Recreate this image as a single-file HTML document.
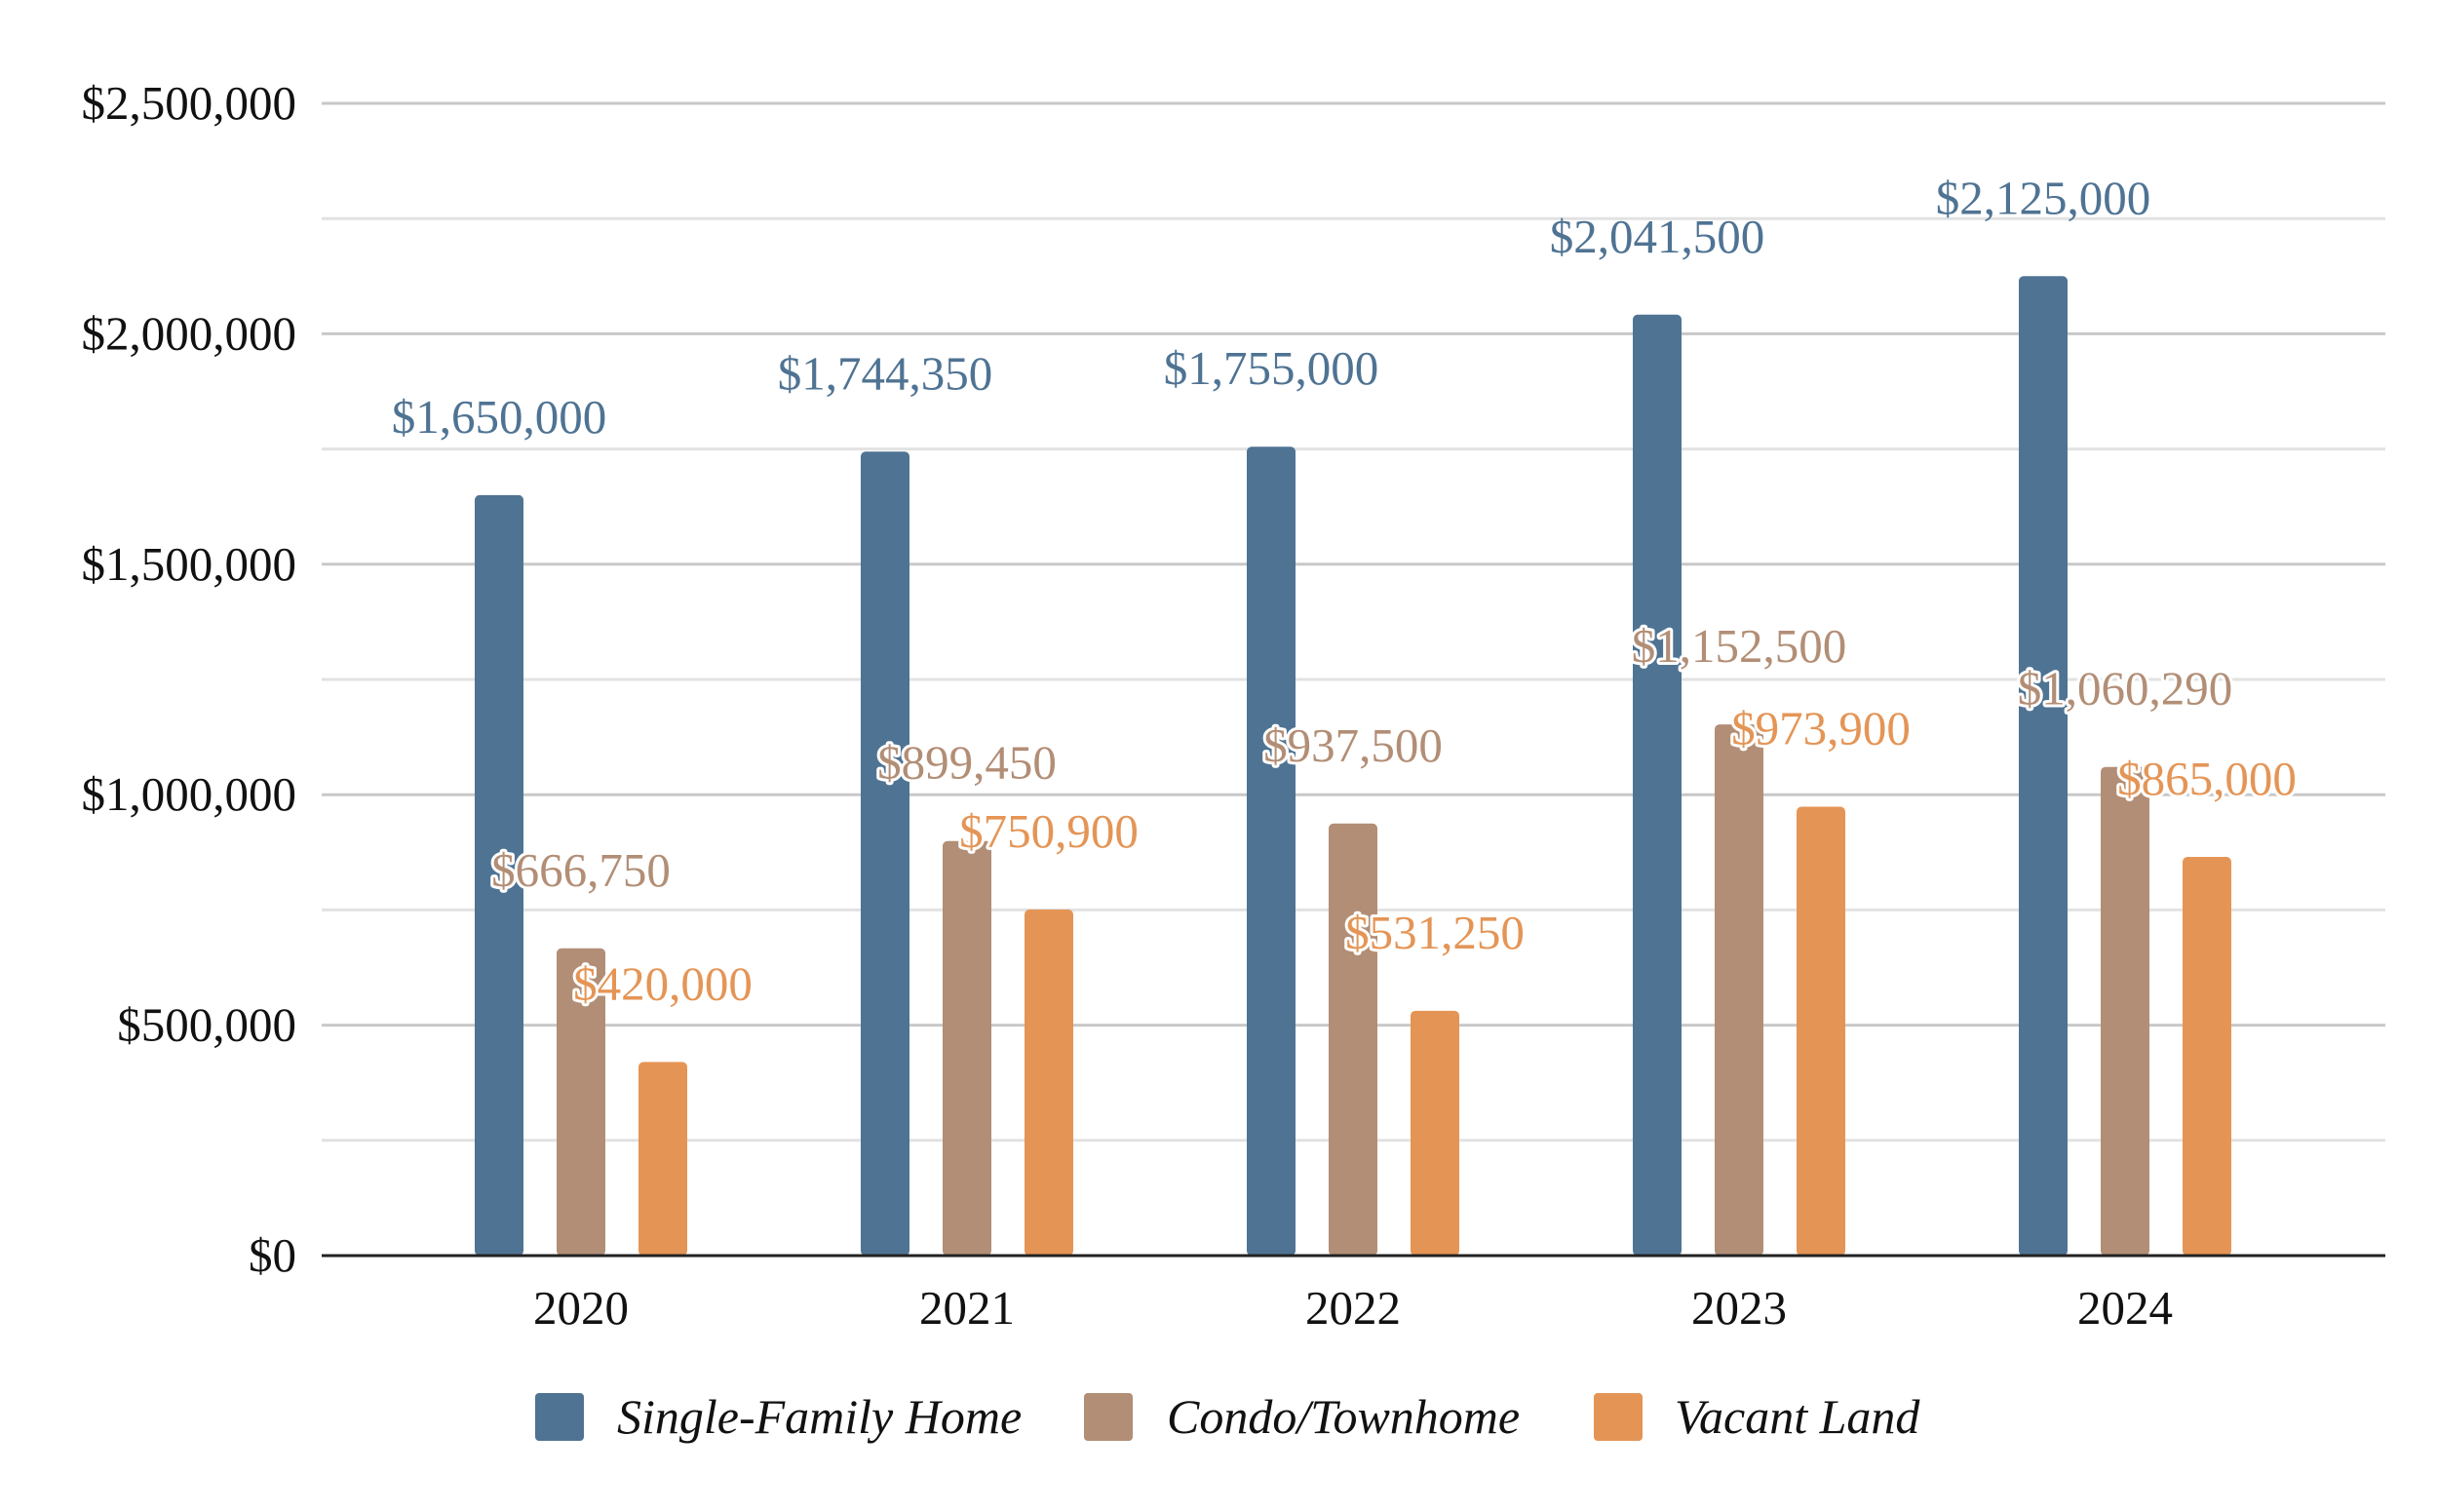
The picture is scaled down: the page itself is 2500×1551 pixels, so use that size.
<!DOCTYPE html>
<html><head><meta charset="utf-8"><style>
body{margin:0;background:#fff}
svg text{font-family:"Liberation Serif",serif}
.lbl{paint-order:stroke;stroke:#fff;stroke-width:6px;stroke-linejoin:round}
</style></head><body>
<svg id="c" width="2500" height="1546" viewBox="0 0 2500 1546">
<g id="grid"></g>
<g id="bars"></g>
<g id="labels"></g>
<g id="axes"></g>
<g id="legend"></g>
</svg>
<script>
const categories=["2020","2021","2022","2023","2024"];
const seriesNames=["Single-Family Home","Condo/Townhome","Vacant Land"];
const singleFamily=[1650000,1744350,1755000,2041500,2125000];
const condo=[666750,899450,937500,1152500,1060290];
const vacant=[420000,750900,531250,973900,865000];
const yTicks=[0,500000,1000000,1500000,2000000,2500000];
const colors=["#4f7393","#b28e76","#e49556"];
const series=[singleFamily,condo,vacant];
const NS="http://www.w3.org/2000/svg";
const L=330,R=2447,Y0=1288,YT=106,YMAX=2500000;
const y=v=>Y0-(v/YMAX)*(Y0-YT);
const cx=i=>596+i*396;
const off=[-84,0,84];
const BW=50;
const fmt=v=>"$"+v.toLocaleString("en-US");
function mk(tag,attrs,parent,text){const e=document.createElementNS(NS,tag);for(const k in attrs)e.setAttribute(k,attrs[k]);if(text!==undefined)e.textContent=text;document.getElementById(parent).appendChild(e);return e;}
for(let v=250000;v<=YMAX;v+=250000){
 const major=v%500000===0;
 const g=mk("line",{x1:L,x2:R,y1:y(v),y2:y(v),stroke:major?"#c8c8c8":"#e2e2e2","stroke-width":3},"grid");
 
 
}
yTicks.forEach(v=>{
 const t=mk("text",{x:304,y:y(v)+16,"text-anchor":"end","font-size":49,fill:"#111"},"axes",fmt(v));
 
 
});
const ax=mk("line",{x1:L,x2:R,y1:Y0,y2:Y0,stroke:"#222","stroke-width":3},"axes");


categories.forEach((c,i)=>{
 const t=mk("text",{x:cx(i),y:1358,"text-anchor":"middle","font-size":49,fill:"#111"},"axes",c);
 
 
 series.forEach((s,k)=>{
  const x=cx(i)+off[k];
  const r=mk("rect",{x:x-BW/2,y:y(s[i]),width:BW,height:Y0-y(s[i]),rx:5,fill:colors[k]},"bars");
  
  
 });
});
categories.forEach((c,i)=>{
 series.forEach((s,k)=>{
  const x=cx(i)+off[k];
  const t=mk("text",{x:x,y:y(s[i])-64,"text-anchor":"middle","font-size":49,fill:colors[k],class:k?"lbl":""},"labels",fmt(s[i]));
  
  
 });
});
const lx=[549,1112,1635],tx=[633,1197,1718];
seriesNames.forEach((n,k)=>{
 const r=mk("rect",{x:lx[k],y:1429,width:50,height:49,rx:4,fill:colors[k]},"legend");
 
 
 const t=mk("text",{x:tx[k],y:1470,"font-size":50,"font-style":"italic",fill:"#111"},"legend",n);
 
 
});
</script>
</body></html>
